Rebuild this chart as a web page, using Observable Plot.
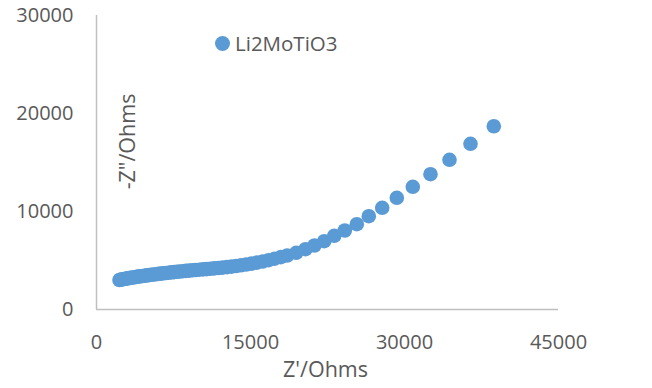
<!DOCTYPE html>
<html>
<head>
<meta charset="utf-8">
<script src="https://cdn.jsdelivr.net/npm/d3@7"></script>
<script src="https://cdn.jsdelivr.net/npm/@observablehq/plot@0.6"></script>
<style>
  html, body { margin: 0; padding: 0; background: #fff; }
  #wrap { position: relative; width: 652px; height: 388px; font-family: "Open Sans", sans-serif; }
  #legend { position: absolute; left: 215px; top: 29px; display: flex; align-items: center; font-size: 20.5px; color: #595959; }
  #legend .sw { width: 15px; height: 15px; border-radius: 50%; background: #5B9BD5; margin-right: 5px; }
</style>
</head>
<body>
<div id="wrap">
  <div id="chart"></div>
  <div id="legend"><span class="sw"></span><span id="legendText"></span></div>
</div>
<script>
const seriesName = "Li2MoTiO3";
const xLabel = "Z'/Ohms";
const yLabel = "-Z\"/Ohms";
const xTicks = [0, 15000, 30000, 45000];
const yTicks = [0, 10000, 20000, 30000];

// Z' (Ohms)
const zReal = [
  2240, 2386, 2532, 2688, 2844, 3010, 3175, 3351, 3526, 3711,
  3896, 4091, 4286, 4490, 4695, 4909, 5123, 5347, 5571, 5805,
  6039, 6282, 6526, 6779, 7032, 7295, 7558, 7831, 8113, 8406,
  8708, 9019, 9341, 9672, 10013, 10364, 10724, 11094, 11474, 11873,
  12282, 12711, 13149, 13607, 14084, 14581, 15097, 15633, 16188, 16762,
  17357, 17961, 18575, 19451, 20357, 21234, 22179, 23153, 24185, 25354,
  26523, 27828, 29250, 30808, 32532, 34383, 36429, 38700
];
// -Z'' (Ohms)
const zImag = [
  3010, 3051, 3082, 3112, 3143, 3173, 3204, 3235, 3265, 3296,
  3327, 3357, 3388, 3418, 3449, 3480, 3510, 3541, 3571, 3602,
  3633, 3663, 3694, 3724, 3755, 3786, 3816, 3847, 3878, 3908,
  3939, 3969, 4000, 4031, 4061, 4092, 4122, 4153, 4194, 4235,
  4276, 4327, 4378, 4439, 4510, 4592, 4684, 4786, 4898, 5031,
  5184, 5347, 5510, 5786, 6153, 6531, 6969, 7520, 8061, 8704,
  9520, 10378, 11398, 12520, 13806, 15276, 16908, 18700
];

const data = zReal.map((x, i) => ({x, y: zImag[i]}));
const gray = "#595959";
const axisGray = "#bfbfbf";

const chart = Plot.plot({
  width: 652,
  height: 388,
  marginLeft: 96,
  marginRight: 94,
  marginTop: 15,
  marginBottom: 79,
  style: {fontFamily: "Open Sans, sans-serif", fontSize: "20px", color: gray, background: "#fff"},
  x: {domain: [0, 45000]},
  y: {domain: [0, 30000]},
  marks: [
    Plot.ruleX([0], {stroke: axisGray, strokeWidth: 1.5}),
    Plot.ruleY([0], {stroke: axisGray, strokeWidth: 1.5}),
    Plot.axisX(xTicks, {tickSize: 0, tickPadding: 25, tickFormat: d => String(d), label: null, fill: gray}),
    Plot.axisY(yTicks, {tickSize: 0, tickPadding: 23, tickFormat: d => String(d), label: null, fill: gray}),
    Plot.text([xLabel], {frameAnchor: "bottom", dx: -2, dy: 67, fill: gray, fontSize: 21.5}),
    Plot.text([yLabel], {frameAnchor: "left", textAnchor: "middle", lineAnchor: "middle", dx: 32, dy: -21, rotate: -90, fill: gray, fontSize: 21.5}),
    Plot.dot(data, {x: "x", y: "y", r: 7.3, fill: "#5B9BD5", stroke: "none"})
  ]
});
document.getElementById("chart").appendChild(chart);
document.getElementById("legendText").textContent = seriesName;
</script>
</body>
</html>
